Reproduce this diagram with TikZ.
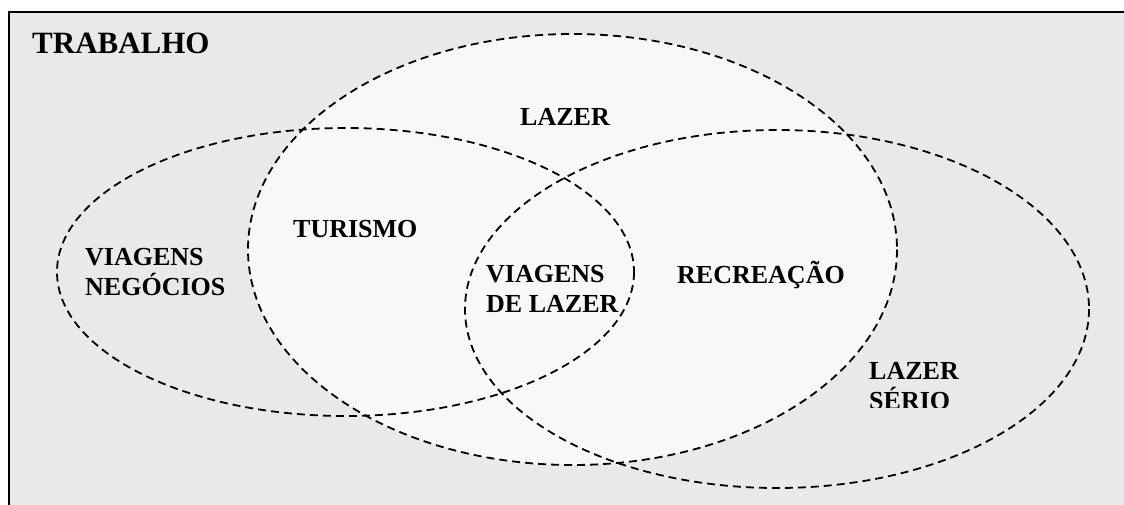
\documentclass[tikz,border=0pt]{standalone}
\usepackage{fontspec}
\setmainfont{Liberation Serif}
\begin{document}
\begin{tikzpicture}[x=1pt,y=-1pt,
  setline/.style={draw=black,dash pattern=on 8pt off 5pt,line width=1.8pt},
  lbl/.style={font=\fontsize{26}{30}\selectfont\bfseries,inner sep=0pt,align=left},
  title/.style={font=\fontsize{31}{36}\selectfont\bfseries,inner sep=0pt}]
\definecolor{workgray}{RGB}{233,233,233}
\definecolor{leisurefill}{RGB}{248,248,248}
\useasboundingbox (0,0) rectangle (1124,504);
\begin{scope}
\clip (0,0) rectangle (1124,504);
\path[fill=workgray,draw=black,line width=2.2pt] (9,12) rectangle (1140,520);
\path[fill=leisurefill] (572.5,249.5) ellipse [x radius=324.5, y radius=215.5];
\path[setline] (572.5,249.5) ellipse [x radius=324.5, y radius=215.5];
\path[setline] (345.5,272) ellipse [x radius=288.5, y radius=144];
\path[setline] (777,309) ellipse [x radius=312, y radius=179];
\end{scope}
\node[title,anchor=base west] (trabalho) at (32,53) {TRABALHO};
\node[lbl,anchor=base west] (lazer) at (520,125) {LAZER};
\node[lbl,anchor=base west] (turismo) at (293,237) {TURISMO};
\node[lbl,anchor=north west] (negocios) at (85,248) {VIAGENS\\NEGÓCIOS};
\node[lbl,anchor=north west] (vlazer) at (486,265) {VIAGENS\\DE LAZER};
\node[lbl,anchor=base west] (recreacao) at (677,283) {RECREAÇÃO};
\begin{scope}
\clip (850,340) rectangle (1000,407);
\node[lbl,anchor=north west] (serio) at (869,362) {LAZER\\SÉRIO};
\end{scope}
\end{tikzpicture}
\end{document}
